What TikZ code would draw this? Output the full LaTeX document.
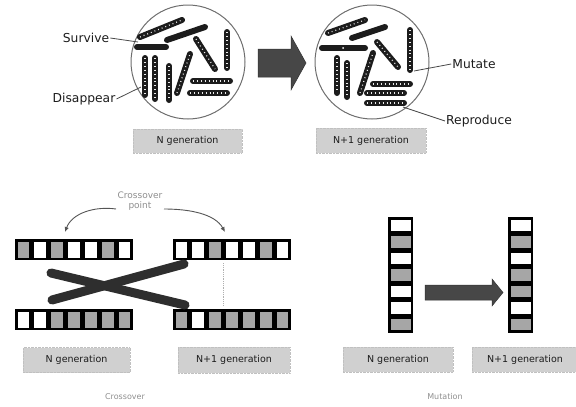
\documentclass[tikz,border=0pt]{standalone}
\usepackage{fontspec}
\setmainfont{DejaVu Sans}
\usetikzlibrary{arrows.meta,calc}

\definecolor{boxgray}{HTML}{D0D0D0}
\definecolor{cellgray}{HTML}{A6A6A6}
\definecolor{arrowgray}{HTML}{474747}
\definecolor{rimgray}{HTML}{6E6E6E}
\definecolor{inkdark}{HTML}{1C1C1C}
\definecolor{inklight}{HTML}{8E8E8E}
\definecolor{strokegray}{HTML}{2E2E2E}

% one chromosome drawn as a row of cells: prefix, x, y, fills
\newcommand\chromrow[4]{%
  \foreach \f [count=\i] in {#4} {
    \node[hcell, fill=\f, anchor=north west] (#1\i) at ({#2+(\i-1)*16.86},#3) {};
  }}
% one chromosome drawn as a column of cells: prefix, x, y, fills
\newcommand\chromcol[4]{%
  \foreach \f [count=\i] in {#4} {
    \node[vcell, fill=\f, anchor=north west] (#1\i) at (#2,{#3+(\i-1)*16.57}) {};
  }}

\begin{document}
\begin{tikzpicture}[x=1pt,y=-1pt,
  rod/.style={line width=6pt, line cap=round, inkdark},
  beads/.style={white!85!gray, line width=1.2pt, dash pattern=on 0.9pt off 3pt},
  dish/.style={circle, draw=rimgray, line width=1pt, minimum size=114pt, inner sep=0pt},
  genbox/.style={fill=boxgray, draw=boxgray!80!gray, line width=0.4pt, densely dotted,
    text=inkdark, font=\fontsize{9.5}{11}\selectfont, inner sep=0pt},
  callout/.style={text=inkdark, font=\fontsize{12.3}{14}\selectfont, inner sep=1pt},
  lead/.style={draw=inkdark!80, line width=0.8pt},
  caption/.style={text=inklight, font=\fontsize{8}{9}\selectfont},
  hcell/.style={draw=black, line width=2.6pt, minimum width=14.3pt, minimum height=18.5pt, inner sep=0pt},
  vcell/.style={draw=black, line width=2.6pt, minimum width=22.5pt, minimum height=14pt, inner sep=0pt},
  xstroke/.style={strokegray, line width=9pt, line cap=round},
  pointarrow/.style={draw=inkdark!75, line width=0.9pt, -{Latex[length=5pt,width=4.5pt]}},
  blockarrow/.style={fill=arrowgray, draw=arrowgray!70!black, line width=0.5pt}]

\useasboundingbox (0,0) rectangle (576,407);

% ---------- population of individuals, generation N ----------
\node[dish] (dishN) at (188,62) {};
\draw[rod] (140,37) -- (182,20);  \draw[beads] (140,37) -- (182,20);
\draw[rod] (167,40) -- (205,27);
\draw[rod] (137,47) -- (166,47);
\draw[rod] (196,39) -- (215,69); \draw[beads] (196,39) -- (215,69);
\draw[rod] (227,32) -- (227,68); \draw[beads] (227,32) -- (227,68);
\draw[rod] (193,81) -- (230,81); \draw[beads] (193,81) -- (230,81);
\draw[rod] (190,93) -- (227,93); \draw[beads] (190,93) -- (227,93);
\draw[rod] (145,58) -- (145,95); \draw[beads] (145,58) -- (145,95);
\draw[rod] (155,58) -- (155,99); \draw[beads] (155,58) -- (155,99);
\draw[rod] (169,66) -- (169,100); \draw[beads] (169,66) -- (169,100);
\draw[rod] (177,93) -- (190,54); \draw[beads] (177,93) -- (190,54);

\node[callout] (survive) at (86,38) {Survive};
\node[callout] (disappear) at (84,99) {Disappear};
\coordinate (surviveEnd) at (138,42);
\coordinate (disappearEnd) at (141,87);
\draw[lead] (survive.east) -- (surviveEnd);
\draw[lead] (disappear.east) -- (disappearEnd);

\node[genbox, minimum width=109pt, minimum height=24pt] (boxN) at (187.5,141) {N generation};

% ---------- block arrow between generations ----------
\fill[blockarrow] (258,49) -- (291,49) -- (291,36) -- (306,63) -- (291,90) -- (291,77) -- (258,77) -- cycle;

% ---------- population of individuals, generation N+1 ----------
\node[dish] (dishN1) at (372,62) {};
\draw[rod] (328,33) -- (365,20); \draw[beads] (328,33) -- (365,20);
\draw[rod] (352,38) -- (385,27);
\draw[rod] (322,48) -- (365,48);
\fill[white] (343,48) circle (1pt);
\draw[rod] (377,42) -- (398,67); \draw[beads] (377,42) -- (398,67);
\draw[rod] (410,30) -- (410,70); \draw[beads] (410,30) -- (410,70);
\draw[rod] (337,58) -- (337,93); \draw[beads] (337,58) -- (337,93);
\draw[rod] (347,63) -- (347,97); \draw[beads] (347,63) -- (347,97);
\draw[rod] (360,93) -- (373,53); \draw[beads] (360,93) -- (373,53);
\draw[rod] (373,84) -- (410,84); \draw[beads] (373,84) -- (410,84);
\draw[rod] (367,93) -- (404,93); \draw[beads] (367,93) -- (404,93);
\draw[rod] (367,103) -- (404,103); \draw[beads] (367,103) -- (404,103);

\node[callout] (mutate) at (474,64) {Mutate};
\node[callout] (reproduce) at (479,121) {Reproduce};
\coordinate (mutateEnd) at (414,71);
\coordinate (reproduceEnd) at (403,107);
\draw[lead] (mutate.west) -- (mutateEnd);
\draw[lead] (reproduce.west) -- (reproduceEnd);

\node[genbox, minimum width=110pt, minimum height=25pt] (boxN1) at (371,140.5) {N+1 generation};

% ---------- crossover ----------
\chromrow{tl}{15}{239}{cellgray,white,cellgray,white,white,cellgray,white}
\chromrow{tr}{173}{239}{white,white,cellgray,white,white,cellgray,white}
\chromrow{bl}{15}{309}{white,white,cellgray,cellgray,cellgray,cellgray,cellgray}
\chromrow{br}{173}{309}{cellgray,white,cellgray,cellgray,cellgray,cellgray,cellgray}

\coordinate (xaStart) at (51,273);
\coordinate (xaEnd) at (185,305);
\coordinate (xbStart) at (52,300);
\coordinate (xbEnd) at (184,264);
\draw[xstroke] (xaStart) -- (xaEnd);
\draw[xstroke] (xbStart) -- (xbEnd);

\draw[inklight!70, line width=0.8pt, densely dotted]
  ($(tr3.south east)+(0,3)$) -- ($(br3.north east)+(0,-3)$);

\node[text=inklight, font=\fontsize{9}{9.5}\selectfont, align=center] (xpoint) at (140,201)
  {Crossover\\point};
\coordinate (xpointL) at (116,209);
\coordinate (xpointR) at (164,209);
\coordinate (xtipL) at (65,232);
\coordinate (xtipR) at (225,232);
\draw[pointarrow] (xpointL) .. controls (95,206) and (72,213) .. (xtipL);
\draw[pointarrow] (xpointR) .. controls (190,209) and (215,214) .. (xtipR);

\node[genbox, minimum width=107pt, minimum height=25pt] (boxXN) at (76.5,360) {N generation};
\node[genbox, minimum width=112pt, minimum height=26pt] (boxXN1) at (234,360) {N+1 generation};
\node[caption] (capX) at (125,397) {Crossover};

% ---------- mutation ----------
\chromcol{ma}{388}{217}{white,cellgray,white,cellgray,white,white,cellgray}
\chromcol{mb}{508}{217}{white,cellgray,white,cellgray,cellgray,white,cellgray}
\fill[blockarrow] (425,285) -- (492,285) -- (492,279) -- (503,292.5) -- (492,306) -- (492,300) -- (425,300) -- cycle;

\node[genbox, minimum width=110pt, minimum height=25pt] (boxMN) at (398,359.5) {N generation};
\node[genbox, minimum width=106pt, minimum height=25pt] (boxMN1) at (525,359.5) {N+1 generation};
\node[caption] (capM) at (445,397) {Mutation};

\end{tikzpicture}
\end{document}
